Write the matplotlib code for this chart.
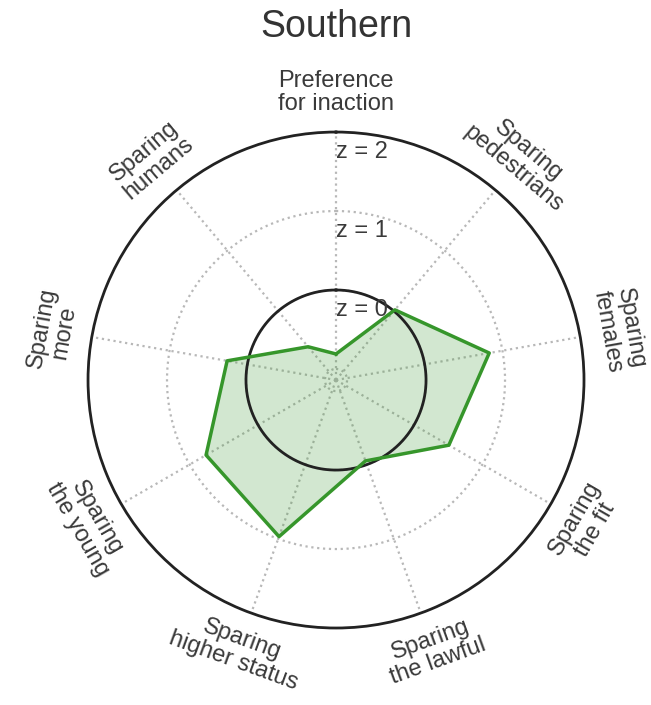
import numpy as np
import matplotlib.pyplot as plt

plt.rcParams['font.family'] = ['Liberation Sans', 'DejaVu Sans']

categories = ['Preference\nfor inaction', 'Sparing\npedestrians', 'Sparing\nfemales',
              'Sparing\nthe fit', 'Sparing\nthe lawful', 'Sparing\nhigher status',
              'Sparing\nthe young', 'Sparing\nmore', 'Sparing\nhumans']
z_values = [-0.81, 0.02, 0.83, 0.51, -0.05, 0.97, 0.76, 0.26, -0.59]
z_ticks = [0, 1, 2]
title = 'Southern'

r_min, r_max = -1.14, 2.0
green = '#36962b'
text_col = '#3a3a3a'

n = len(categories)
angles = np.arange(n) * 2 * np.pi / n

fig = plt.figure(figsize=(6.51, 7.05), dpi=100)
ax = fig.add_axes([0.1352, 0.1092, 0.7619, 0.7035], projection='polar')
ax.set_theta_zero_location('N')
ax.set_theta_direction(-1)
ax.set_ylim(r_min, r_max)

# grid: dotted spokes and rings
ax.set_xticks(angles)
ax.set_xticklabels([])
ax.set_yticks([-1, 0, 1])
ax.set_yticklabels([])
ax.grid(True, color='#b8b8b8', linestyle=':', linewidth=1.6)
ax.spines['polar'].set_color('#222222')
ax.spines['polar'].set_linewidth(2)

# z = 0 reference circle
th = np.linspace(0, 2 * np.pi, 400)
ax.plot(th, np.zeros_like(th), color='#222222', linewidth=2, zorder=4)

# data polygon
a_closed = np.append(angles, angles[0])
v_closed = np.append(z_values, z_values[0])
ax.fill(a_closed, v_closed, color=green, alpha=0.22, zorder=3)
ax.plot(a_closed, v_closed, color=green, linewidth=2.5, zorder=5)

# z labels
for z in z_ticks:
    ax.text(0, z - 0.25, f'z = {z}', ha='left', va='center', fontsize=17,
            color=text_col, zorder=6)

# category labels, rotated along the circle
for ang, lab in zip(angles, categories):
    deg = np.degrees(ang)
    if 90 < deg < 270:
        rot = 180 - deg
    else:
        rot = -deg
    ax.text(ang, 2.5, lab, ha='center', va='center', rotation=rot,
            rotation_mode='anchor', fontsize=17, color=text_col,
            linespacing=1.05, clip_on=False)

fig.text(336 / 651, 0.962, title, ha='center', va='center', fontsize=27,
         color='#333333')

fig.savefig('out.png', dpi=100)
